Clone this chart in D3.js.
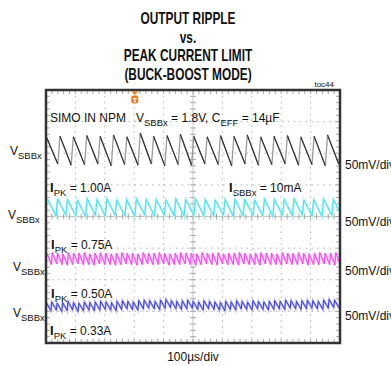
<!DOCTYPE html>
<html>
<head>
<meta charset="utf-8">
<script src="https://cdn.jsdelivr.net/npm/d3@7"></script>
<style>
  body { margin: 0; background: #fff; }
  svg { display: block; }
  text { font-family: "Liberation Sans", Arial, sans-serif; fill: #111; }
  .title { font-family: "Liberation Sans", Arial, sans-serif; font-weight: bold; font-size: 16.5px; }
</style>
</head>
<body>
<div id="chart"></div>
<script>
// scope setup: 10 div x 100us, 8 div x 50mV
const timePerDiv = 100;
const mvPerDiv = 50;
const titleLines = ["OUTPUT RIPPLE", "vs.", "PEAK CURRENT LIMIT", "(BUCK-BOOST MODE)"];

// channel offsets (mV from screen centre) and ripple periods (us)
const channelNames = ["black", "cyan", "magenta", "blue"];
const channelOffset = [105, 14, -67, -141];
const channelPeriod = [45.5, 33.5, 18.2, 18.5];
const channelPhase = [2, 6, 3, 1];

// per-tooth peak / valley values (mV relative to offset)
const blackHi = [20, 22, 21, 23, 22, 24, 21, 27, 22, 23, 25, 22, 21, 23, 22, 24, 21, 22, 23, 21, 22, 24, 22];
const blackLo = [-22, -24, -23, -22, -25, -23, -24, -22, -25, -23, -24, -22, -23, -25, -22, -24, -23, -22, -24, -23, -25, -22, -23];
const cyanHi = [13, 14, 13, 12, 14, 13, 14, 12, 13, 14, 13, 13, 12, 14, 13, 14, 13, 12, 13, 14, 13, 12, 14, 13, 13, 14, 12, 13, 14, 13, 13];
const cyanLo = [-13, -12, -13, -14, -12, -13, -12, -13, -14, -12, -13, -12, -13, -14, -12, -13, -13, -12, -14, -13, -12, -13, -14, -12, -13, -12, -13, -14, -12, -13, -13];
const magentaHi = [9, 10, 9, 8, 10, 9, 9, 10, 8, 9, 10, 9, 8, 9, 10, 9, 9, 8, 10, 9, 9, 10, 9, 8, 9, 10, 9, 9, 8, 10,
  9, 9, 10, 8, 9, 9, 10, 9, 8, 9, 10, 9, 9, 8, 10, 9, 9, 10, 9, 8, 9, 10, 9, 9, 10];
const magentaLo = [-9, -8, -9, -10, -9, -8, -9, -9, -10, -8, -9, -9, -10, -9, -8, -9, -10, -9, -8, -9, -9, -8, -10, -9, -9, -8, -9, -10, -9, -8,
  -9, -10, -8, -9, -9, -10, -8, -9, -9, -10, -8, -9, -9, -10, -8, -9, -9, -8, -10, -9, -9, -8, -9, -10, -9];
const blueHi = [5, 6, 4, 5, 7, 5, 4, 6, 5, 6, 7, 6, 5, 7, 8, 7, 6, 8, 9, 8, 7, 9, 10, 8, 7, 8, 9, 7, 6, 8,
  7, 6, 5, 7, 6, 8, 7, 6, 8, 7, 6, 7, 8, 7, 9, 8, 7, 8, 9, 8, 7, 9, 10, 9];
const blueLo = [-8, -7, -9, -8, -7, -9, -8, -7, -8, -7, -6, -7, -8, -6, -5, -6, -7, -5, -4, -5, -6, -4, -3, -5, -6, -5, -4, -6, -7, -5,
  -6, -7, -8, -6, -7, -5, -6, -7, -5, -6, -7, -6, -5, -6, -4, -5, -6, -5, -4, -5, -6, -4, -3, -4];
const traceHi = [blackHi, cyanHi, magentaHi, blueHi];
const traceLo = [blackLo, cyanLo, magentaLo, blueLo];

const chLabels = ["V", "V", "V", "V"];
const scaleLabels = ["50mV/div", "50mV/div", "50mV/div", "50mV/div"];
const currentLabels = ["1.00A", "0.75A", "0.50A", "0.33A"];
const timeLabel = "100\u00b5s/div";
const triggerTime = 302;

const W = 391, H = 366;
const frame = { left: 46, right: 340, top: 90, bottom: 343 };

const svg = d3.select("#chart").append("svg")
  .attr("width", W)
  .attr("height", H);

const x = d3.scaleLinear().domain([0, 10 * timePerDiv]).range([frame.left, frame.right]);
const y = d3.scaleLinear().domain([-4 * mvPerDiv, 4 * mvPerDiv]).range([frame.bottom, frame.top]);

// title, squeezed to look like a narrow face
svg.selectAll(".title")
  .data(titleLines)
  .enter().append("text")
  .attr("class", "title")
  .attr("transform", (d, i) => `translate(188,${24 + i * 18.5}) scale(0.72,1)`)
  .attr("text-anchor", "middle")
  .text(d => d);

svg.append("text")
  .attr("x", 334).attr("y", 87)
  .attr("text-anchor", "end")
  .style("font-size", "8px")
  .text("toc44");

// grid
const grid = svg.append("g");
const xDivs = d3.range(1, 10).map(i => i * timePerDiv);
const yDivs = d3.range(-3, 4).map(i => i * mvPerDiv);

grid.selectAll(".vgrid")
  .data(xDivs.filter(d => d !== 500))
  .enter().append("line")
  .attr("x1", d => x(d)).attr("x2", d => x(d))
  .attr("y1", frame.top).attr("y2", frame.bottom)
  .attr("stroke", "#b0b0b0")
  .attr("stroke-width", 1)
  .attr("stroke-dasharray", "1.5,4.4");

grid.selectAll(".hgrid")
  .data(yDivs.filter(d => d !== 0))
  .enter().append("line")
  .attr("x1", frame.left).attr("x2", frame.right)
  .attr("y1", d => y(d)).attr("y2", d => y(d))
  .attr("stroke", "#b0b0b0")
  .attr("stroke-width", 1)
  .attr("stroke-dasharray", "1.5,4.4");

// centre axes with minor ticks
grid.append("line")
  .attr("x1", x(500)).attr("x2", x(500))
  .attr("y1", frame.top).attr("y2", frame.bottom)
  .attr("stroke", "#c4c4c4");
grid.append("line")
  .attr("x1", frame.left).attr("x2", frame.right)
  .attr("y1", y(0)).attr("y2", y(0))
  .attr("stroke", "#c4c4c4");

const xMinor = d3.range(1, 50).map(i => i * timePerDiv / 5);
const yMinor = d3.range(-19, 20).map(i => i * mvPerDiv / 5);

grid.selectAll(".xminor")
  .data(xMinor)
  .enter().append("path")
  .attr("d", d => `M${x(d)},${frame.top}v4M${x(d)},${frame.bottom}v-4M${x(d)},${y(0) - 3}v6`)
  .attr("stroke", "#a8a8a8")
  .attr("fill", "none");

grid.selectAll(".yminor")
  .data(yMinor)
  .enter().append("path")
  .attr("d", d => `M${frame.left},${y(d)}h4M${frame.right},${y(d)}h-4M${x(500) - 3},${y(d)}h6`)
  .attr("stroke", "#a8a8a8")
  .attr("fill", "none");

// traces
function toothPoints(c) {
  const P = channelPeriod[c];
  const pts = [];
  traceHi[c].forEach((hi, i) => {
    const t0 = channelPhase[c] + i * P;
    pts.push({ t: t0, v: channelOffset[c] + hi });
    pts.push({ t: t0 + 0.84 * P, v: channelOffset[c] + traceLo[c][i] });
  });
  return pts;
}

svg.append("clipPath").attr("id", "scr")
  .append("rect")
  .attr("x", frame.left).attr("y", frame.top)
  .attr("width", frame.right - frame.left).attr("height", frame.bottom - frame.top);

const traces = svg.append("g").attr("clip-path", "url(#scr)");
const line = d3.line().x(d => x(d.t)).y(d => y(d.v));
const traceColor = ["#9a9a9a", "#3fe3f0", "#ff3cf5", "#3a3ae8"];
const haloColor = [null, "#b6f5fa", "#ffc0fb", "#bdbdf8"];

channelNames.forEach((name, c) => {
  const pts = toothPoints(c);
  if (haloColor[c]) {
    traces.append("path")
      .attr("d", line(pts))
      .attr("fill", "none")
      .attr("stroke", haloColor[c])
      .attr("stroke-width", 2.2);
  }
  traces.append("path")
    .attr("d", line(pts))
    .attr("fill", "none")
    .attr("stroke", traceColor[c])
    .attr("stroke-width", c === 0 ? 1.3 : 1);
  if (c === 0) {
    // falling ramps read darker on the black channel
    const segs = d3.range(0, pts.length - 1, 2).map(i => [pts[i], pts[i + 1]]);
    traces.selectAll(".fall")
      .data(segs)
      .enter().append("path")
      .attr("d", d => line(d))
      .attr("stroke", "#2e2e2e")
      .attr("stroke-width", 1.1)
      .attr("fill", "none");
  }
});

// frame border
svg.append("rect")
  .attr("x", frame.left).attr("y", frame.top)
  .attr("width", frame.right - frame.left).attr("height", frame.bottom - frame.top)
  .attr("fill", "none")
  .attr("stroke", "#333")
  .attr("stroke-width", 2.5);

// trigger marker
const tx = x(triggerTime);
svg.append("path")
  .attr("d", `M${tx - 3.5},${frame.top + 1.5}h7l-3.5,3.5z`)
  .attr("fill", "#f07c1c");
svg.append("rect")
  .attr("x", tx - 3.5).attr("y", frame.top + 5.5)
  .attr("width", 7).attr("height", 8).attr("rx", 2)
  .attr("fill", "#f07c1c");
svg.append("text")
  .attr("x", tx).attr("y", frame.top + 12.5)
  .attr("text-anchor", "middle")
  .style("font-size", "7px").style("font-weight", "bold")
  .style("fill", "#fff")
  .text("T");

// text with subscripts
function label(px, py, parts, size) {
  const t = svg.append("text")
    .attr("x", px).attr("y", py)
    .style("font-size", (size || 12) + "px");
  let shift = 0;
  parts.forEach(p => {
    const sub = p.sub || false;
    const dy = sub ? 4 - shift : -shift;
    shift = sub ? 4 : 0;
    t.append("tspan")
      .attr("dy", dy)
      .style("font-size", sub ? "9.5px" : (p.bold ? "13px" : null))
      .style("font-weight", p.bold ? "bold" : null)
      .text(p.s);
  });
  return t;
}

label(50, 122, [{ s: "SIMO IN NPM" }]);
label(136, 122, [{ s: "V" }, { s: "SBBx", sub: true }, { s: " = 1.8V, C" }, { s: "EFF", sub: true }, { s: " = 14\u00b5F" }]);

const vLabelPos = [[10, 155], [8, 219], [13, 271], [13, 317]];
chLabels.forEach((v, i) => {
  label(vLabelPos[i][0], vLabelPos[i][1], [{ s: v }, { s: "SBBx", sub: true }]);
});

const scaleY = [169, 226, 275, 320];
scaleLabels.forEach((s, i) => label(345, scaleY[i], [{ s: s }]));

const ipkPos = [[50, 192], [51, 249], [51, 298], [50, 335]];
currentLabels.forEach((s, i) => {
  label(ipkPos[i][0], ipkPos[i][1], [{ s: "I", bold: true }, { s: "PK", sub: true }, { s: " = " + s }]);
});

label(229, 192, [{ s: "I", bold: true }, { s: "SBBx", sub: true }, { s: " = 10mA" }]);

svg.append("text")
  .attr("x", x(500)).attr("y", 361)
  .attr("text-anchor", "middle")
  .style("font-size", "12px")
  .text(timeLabel);
</script>
</body>
</html>
